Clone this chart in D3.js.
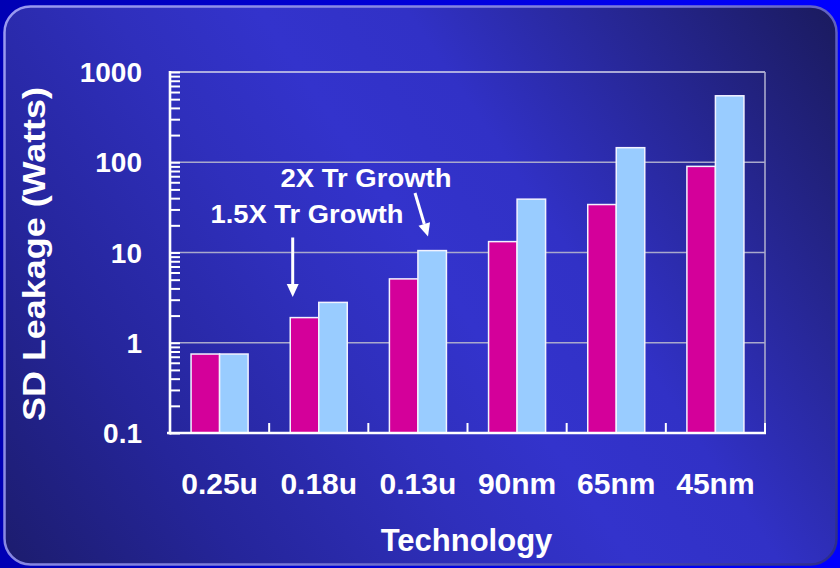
<!DOCTYPE html>
<html>
<head>
<meta charset="utf-8">
<script src="https://cdn.jsdelivr.net/npm/d3@7"></script>
<style>
  html, body { margin: 0; padding: 0; background: #0000d0; }
  svg { display: block; }
  text { font-family: "Liberation Sans", Arial, Helvetica, sans-serif; font-weight: bold; fill: #ffffff; }
</style>
</head>
<body>
<svg id="chart" width="840" height="568"></svg>
<script>
// Process generations and subthreshold (SD) leakage in watts
const categories = ["0.25u", "0.18u", "0.13u", "90nm", "65nm", "45nm"];
const seriesKeys = ["sameTransistors", "withTrGrowth"];
const leakageSameTr = [0.75, 1.9, 5.1, 13.2, 34, 90];
const leakageTrGrowth = [0.75, 2.8, 10.5, 39, 145, 545];
const yTickValues = [0.1, 1, 10, 100, 1000];
const yTickLabels = ["0.1", "1", "10", "100", "1000"];
const seriesColors = ["#d4009a", "#99ccff"];

const rows = categories.map((c, i) => ({
  category: c,
  values: [
    { key: seriesKeys[0], value: leakageSameTr[i] },
    { key: seriesKeys[1], value: leakageTrGrowth[i] }
  ]
}));

const W = 840, H = 568;
const plot = { left: 170, right: 765, top: 72, bottom: 433 };

const svg = d3.select("#chart");
const defs = svg.append("defs");

// slide background
const outer = defs.append("linearGradient").attr("id", "outerBg")
  .attr("x1", 0).attr("y1", 0).attr("x2", 1).attr("y2", 0);
outer.append("stop").attr("offset", 0).attr("stop-color", "#0000b4");
outer.append("stop").attr("offset", 1).attr("stop-color", "#0000ff");

const panel = defs.append("linearGradient").attr("id", "panelBg")
  .attr("gradientUnits", "userSpaceOnUse")
  .attr("x1", 0).attr("y1", H).attr("x2", W).attr("y2", 0);
[[0, "#1c1c6c"], [0.2, "#25259a"], [0.4, "#2f2fbc"], [0.52, "#3333cc"],
 [0.64, "#3131c6"], [0.8, "#272796"], [1, "#1a1a5c"]]
  .forEach(([o, c]) => panel.append("stop").attr("offset", o).attr("stop-color", c));

const edge = defs.append("linearGradient").attr("id", "panelEdge")
  .attr("gradientUnits", "userSpaceOnUse")
  .attr("x1", 0).attr("y1", 0).attr("x2", W).attr("y2", H);
edge.append("stop").attr("offset", 0).attr("stop-color", "#9a9af0");
edge.append("stop").attr("offset", 0.55).attr("stop-color", "#7a7ad8");
edge.append("stop").attr("offset", 1).attr("stop-color", "#2a2a8a");

svg.append("rect").attr("width", W).attr("height", H).attr("fill", "url(#outerBg)");
svg.append("rect")
  .attr("x", 4.5).attr("y", 6.5).attr("width", 832).attr("height", 558)
  .attr("rx", 26).attr("ry", 26)
  .attr("fill", "url(#panelBg)")
  .attr("stroke", "url(#panelEdge)").attr("stroke-width", 2.5);

// scales
const x0 = d3.scaleBand().domain(categories)
  .range([plot.left, plot.right]).paddingInner(0.425).paddingOuter(0.2125);
const x1 = d3.scaleBand().domain(seriesKeys).range([0, x0.bandwidth()]);
const y = d3.scaleLog().domain([0.1, 1000]).range([plot.bottom, plot.top]);
const color = d3.scaleOrdinal().domain(seriesKeys).range(seriesColors);

// gridlines and plot frame
const gridColor = "#a9a9cc";
svg.append("g").selectAll("line").data(yTickValues.slice(1))
  .join("line")
  .attr("x1", plot.left).attr("x2", plot.right)
  .attr("y1", d => y(d)).attr("y2", d => y(d))
  .attr("stroke", d => d === 1000 ? "#d6d6ea" : gridColor)
  .attr("stroke-width", 1.6);
svg.append("line")
  .attr("x1", plot.right).attr("x2", plot.right)
  .attr("y1", plot.top).attr("y2", plot.bottom)
  .attr("stroke", gridColor).attr("stroke-width", 1.6);

// bars
svg.append("g").selectAll("g").data(rows).join("g")
  .attr("transform", d => `translate(${x0(d.category)},0)`)
  .selectAll("rect").data(d => d.values).join("rect")
  .attr("x", d => x1(d.key))
  .attr("width", x1.bandwidth())
  .attr("y", d => y(d.value))
  .attr("height", d => y(0.1) - y(d.value))
  .attr("fill", d => color(d.key))
  .attr("stroke", "#f2f2ff").attr("stroke-width", 1.5);

// y axis: log ticks pointing into the plot
const yAxis = d3.axisLeft(y)
  .tickValues(y.ticks())
  .tickSize(-10)
  .tickFormat("");
const yG = svg.append("g").attr("transform", `translate(${plot.left},0)`).call(yAxis);
yG.select(".domain").remove();
yG.selectAll(".tick line").attr("stroke", "#ffffff").attr("stroke-width", 2);

svg.append("line")
  .attr("x1", plot.left).attr("x2", plot.left)
  .attr("y1", plot.top - 1).attr("y2", plot.bottom + 1.5)
  .attr("stroke", "#ffffff").attr("stroke-width", 2.6);

svg.append("g").selectAll("text").data(yTickValues).join("text")
  .attr("x", 142).attr("y", d => y(d))
  .attr("dy", "0.36em")
  .attr("text-anchor", "end")
  .attr("font-size", 28)
  .text((d, i) => yTickLabels[i]);

// x axis: separators between technology groups
svg.append("line")
  .attr("x1", plot.left - 3).attr("x2", plot.right + 1)
  .attr("y1", plot.bottom).attr("y2", plot.bottom)
  .attr("stroke", "#ffffff").attr("stroke-width", 2.6);
svg.append("g").selectAll("line").data(categories).join("line")
  .attr("x1", d => x0(d) - x0.step() * x0.paddingOuter() + x0.step())
  .attr("x2", d => x0(d) - x0.step() * x0.paddingOuter() + x0.step())
  .attr("y1", plot.bottom).attr("y2", plot.bottom - 10)
  .attr("stroke", "#ffffff").attr("stroke-width", 2);

svg.append("g").selectAll("text").data(categories).join("text")
  .attr("x", d => x0(d) + x0.bandwidth() / 2)
  .attr("y", 494)
  .attr("text-anchor", "middle")
  .attr("font-size", 30)
  .text(d => d);

// axis titles
svg.append("text")
  .attr("x", (plot.left + plot.right) / 2 - 1).attr("y", 551)
  .attr("text-anchor", "middle")
  .attr("font-size", 31)
  .text("Technology");

svg.append("text")
  .attr("transform", `translate(45,${(plot.top + plot.bottom) / 2 + 1.5}) rotate(-90)`)
  .attr("text-anchor", "middle")
  .attr("font-size", 31)
  .attr("textLength", 334)
  .attr("lengthAdjust", "spacingAndGlyphs")
  .text("SD Leakage (Watts)");

// annotations
function arrow(xs, ys, xt, yt) {
  const a = Math.atan2(yt - ys, xt - xs);
  const head = 13, half = 6;
  const bx = xt - head * Math.cos(a), by = yt - head * Math.sin(a);
  svg.append("line")
    .attr("x1", xs).attr("y1", ys).attr("x2", bx).attr("y2", by)
    .attr("stroke", "#ffffff").attr("stroke-width", 3);
  const px = -Math.sin(a) * half, py = Math.cos(a) * half;
  svg.append("path")
    .attr("d", `M${xt},${yt}L${bx + px},${by + py}L${bx - px},${by - py}Z`)
    .attr("fill", "#ffffff");
}

svg.append("text")
  .attr("x", 366).attr("y", 187)
  .attr("text-anchor", "middle")
  .attr("font-size", 26)
  .attr("textLength", 171).attr("lengthAdjust", "spacingAndGlyphs")
  .text("2X Tr Growth");
svg.append("text")
  .attr("x", 307).attr("y", 223)
  .attr("text-anchor", "middle")
  .attr("font-size", 26)
  .attr("textLength", 193).attr("lengthAdjust", "spacingAndGlyphs")
  .text("1.5X Tr Growth");

arrow(292.7, 237.5, 292.7, 297);
arrow(415, 193, 428, 236.5);
</script>
</body>
</html>
